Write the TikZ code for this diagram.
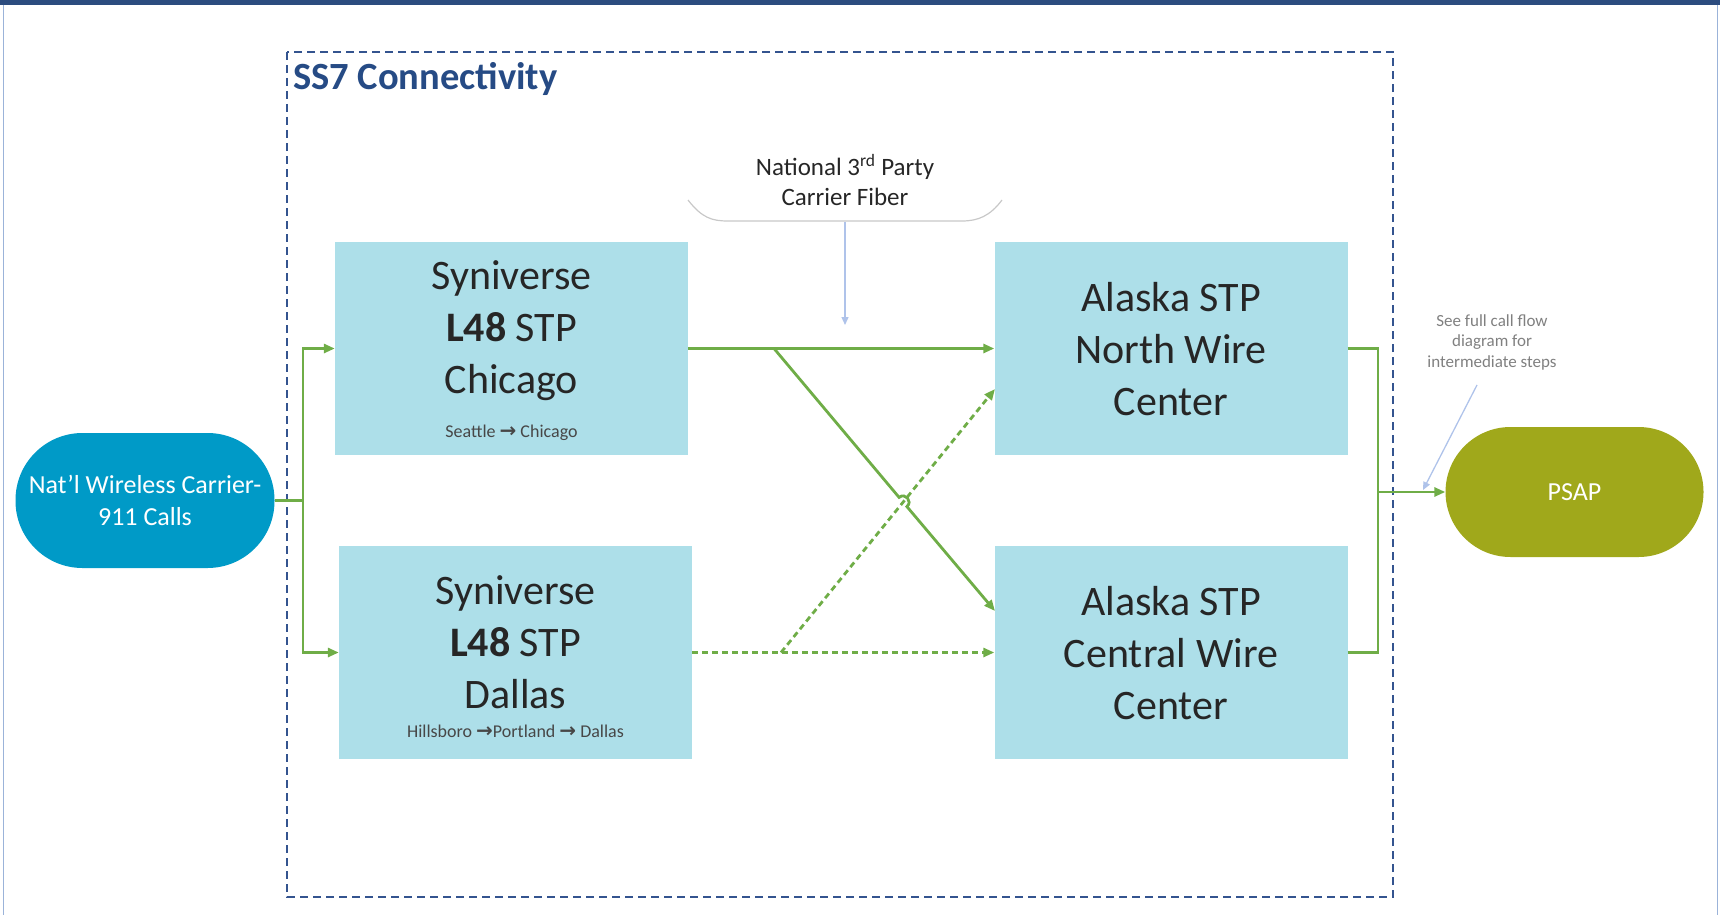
\documentclass[tikz,border=0pt]{standalone}
\usepackage{fontspec}
\setmainfont{Carlito}
\newfontfamily\arrfont{DejaVu Sans}
\usetikzlibrary{arrows.meta,calc}
\definecolor{navy}{HTML}{2C4C7F}
\definecolor{framec}{HTML}{9BB3D9}
\definecolor{dashc}{HTML}{34548F}
\definecolor{titlec}{HTML}{264B85}
\definecolor{boxc}{HTML}{ADDFE9}
\definecolor{natc}{HTML}{009AC7}
\definecolor{psapc}{HTML}{A0A81B}
\definecolor{greenc}{HTML}{6FAD47}
\definecolor{notearr}{HTML}{AFC3EA}
\definecolor{notetext}{HTML}{808080}
\definecolor{boxtext}{HTML}{262626}
\definecolor{cloudc}{HTML}{C8C8C8}
\newcommand{\rarr}{{\arrfont\bfseries\fontsize{20}{22}\selectfont →}}
\begin{document}
\begin{tikzpicture}[x=1pt,y=-1pt,
  stpbox/.style={rectangle,fill=boxc,minimum width=353pt,minimum height=213pt,inner sep=0pt},
  bigtext/.style={align=center,inner sep=0pt,text=boxtext,font=\fontsize{42}{52}\selectfont},
  smalltext/.style={inner sep=0pt,text=boxtext!85,font=\fontsize{18}{22}\selectfont},
  pill/.style={rectangle,inner sep=0pt,align=center,text=white,font=\fontsize{26}{32}\selectfont},
  gline/.style={draw=greenc,line width=2.8pt},
  garrow/.style={gline,-{Triangle[length=11pt,width=9pt]}},
  gdash/.style={garrow,dash pattern=on 6pt off 4pt},
  notestyle/.style={align=center,inner sep=0pt,text=notetext,font=\fontsize{17}{20.5}\selectfont},
  thinarrow/.style={draw=notearr,line width=1.3pt,-{Triangle[length=8pt,width=7pt]}}
]
\useasboundingbox (0,0) rectangle (1720,915);
% frame
\fill[navy] (0,0) rectangle (1720,5);
\draw[framec,line width=1.5pt] (3.5,5) -- (3.5,915);
\draw[framec,line width=1.5pt] (1717.5,5) -- (1717.5,915);
% dashed container
\draw[dashc,line width=1.4pt,dash pattern=on 8pt off 5pt] (287,52) rectangle (1393,897);
\node[anchor=west,inner sep=0pt,text=titlec,font=\fontsize{38.5}{44}\selectfont\bfseries] (title) at (293,79) {SS7 Connectivity};

% fiber cloud
\draw[cloudc,line width=1.2pt] (688,200) .. controls (702,218) and (712,221) .. (728,221) -- (962,221) .. controls (978,221) and (990,216) .. (1002,200);
\node[align=center,inner sep=0pt,text=boxtext,font=\fontsize{25}{30.5}\selectfont] (fiber) at (845,180) {National 3\textsuperscript{rd} Party\\Carrier Fiber};
\coordinate (fibtop) at (845,222);
\coordinate (fibend) at (845,325);
\draw[thinarrow] (fibtop) -- (fibend);

% boxes
\node[stpbox] (chi) at (511.5,348.5) {};
\node[bigtext] (chit) at (511.5,331) {Syniverse\\\textbf{L48} STP\\Chicago};
\node[smalltext] (chis) at (511.5,433) {Seattle \rarr{} Chicago};

\node[stpbox] (dal) at (515.5,652.5) {};
\node[bigtext] (dalt) at (515.5,642) {Syniverse\\\textbf{L48} STP\\Dallas};
\node[smalltext] (dals) at (515.5,731) {Hillsboro \rarr{}Portland \rarr{} Dallas};

\node[stpbox] (nor) at (1171,348.5) {};
\node[bigtext] (nort) at (1171,349) {Alaska STP\\North Wire\\Center};

\node[stpbox] (cen) at (1171,652.5) {};
\node[bigtext] (cent) at (1171,653) {Alaska STP\\Central Wire\\Center};

% pills
\node[pill,fill=natc,minimum width=259pt,minimum height=135pt,rounded corners=67pt] (nat) at (145,500.5) {Nat’l Wireless Carrier-\\911 Calls};
\node[pill,fill=psapc,minimum width=258pt,minimum height=130pt,rounded corners=65pt] (psap) at (1574.5,492) {PSAP};

% note
\node[notestyle] (note) at (1492,342) {See full call flow\\diagram for\\intermediate steps};
\coordinate (noteout) at (1477,385);
\coordinate (noteend) at (1423,490);
\draw[thinarrow] (noteout) -- (noteend);

% connectors
\coordinate (j1) at (303,500.5);
\coordinate (br1) at (774,348.5);
\coordinate (br2) at (781,652.5);
\coordinate (cenin) at (995,611);
\coordinate (norin) at (995,389);
\coordinate (j2) at (1378,492);
\coordinate (hop1) at (899.1,497.4);
\coordinate (hop2) at (906.9,506.6);

\draw[gline] (nat.east) -- (j1);
\draw[garrow] (j1) |- (chi.west);
\draw[garrow] (j1) |- (dal.west);
\draw[garrow] (chi.east) -- (nor.west);
\draw[gdash] (dal.east) -- (cen.west);
\draw[gdash] (br2) -- (norin);
\draw[garrow] (br1) -- (hop1) .. controls (905.2,492.2) and (913.0,501.4) .. (hop2) -- (cenin);
\draw[gline] (nor.east) -| (j2);
\draw[gline] (cen.east) -| (j2);
\draw[garrow] (j2) -- (psap.west);
\end{tikzpicture}
\end{document}
